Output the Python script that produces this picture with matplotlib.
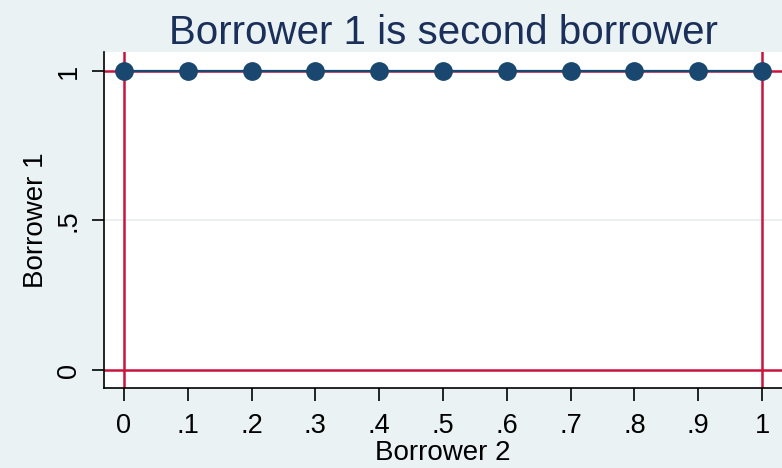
import numpy as np
import matplotlib
matplotlib.use("Agg")
import matplotlib.pyplot as plt

plt.rcParams.update({
    "font.family": ["Liberation Sans", "DejaVu Sans"],
    "figure.facecolor": "#eaf2f3",
    "axes.facecolor": "white",
})

# share of borrower 2 vs. borrower 1 outcome
borrower2 = [0.0, 0.1, 0.2, 0.3, 0.4, 0.5, 0.6, 0.7, 0.8, 0.9, 1.0]
borrower1 = [1, 1, 1, 1, 1, 1, 1, 1, 1, 1, 1]

xticks = [0.0, 0.1, 0.2, 0.3, 0.4, 0.5, 0.6, 0.7, 0.8, 0.9, 1.0]
xtick_labels = ["0", ".1", ".2", ".3", ".4", ".5", ".6", ".7", ".8", ".9", "1"]
yticks = [0.0, 0.5, 1.0]
ytick_labels = ["0", ".5", "1"]

# reference lines marking the bounds
xlines = [0, 1]
ylines = [0, 1]

NAVY = "#1a476f"
RED = "#c8143c"

fig = plt.figure(figsize=(7.82, 4.68), dpi=100)
ax = fig.add_axes([0.133, 0.171, 0.867, 0.718])

ax.axhline(0.5, color="#e6eeef", lw=1.2, zorder=0)
for v in ylines:
    ax.axhline(v, color=RED, lw=1.8, zorder=1)
for v in xlines:
    ax.axvline(v, color=RED, lw=1.8, zorder=1)

ax.plot(borrower2, borrower1, color=NAVY, lw=1.6, marker="o", ms=12.5,
        mfc=NAVY, mec=NAVY, zorder=3, clip_on=False)

ax.set_xlim(-0.0313, 1.0313)
ax.set_ylim(-0.060, 1.0635)
ax.set_xticks(xticks, xtick_labels)
ax.set_yticks(yticks, ytick_labels)
for lab in ax.get_yticklabels():
    lab.set_rotation(90)
    lab.set_va("center")

ax.tick_params(axis="both", labelsize=19.5, length=9, width=1.2, color="black")
ax.tick_params(axis="x", pad=9)
ax.tick_params(axis="y", pad=7)
for side in ("top", "right"):
    ax.spines[side].set_visible(False)
for side in ("left", "bottom"):
    ax.spines[side].set_linewidth(1.2)
    ax.spines[side].set_color("black")

ax.set_xlabel("Borrower 2", fontsize=20, labelpad=1)
ax.set_ylabel("Borrower 1", fontsize=20, labelpad=5)
ax.set_title("Borrower 1 is second borrower", fontsize=29, color="#1a2f5a", pad=6)

fig.savefig("out.png", dpi=100, facecolor=fig.get_facecolor())
